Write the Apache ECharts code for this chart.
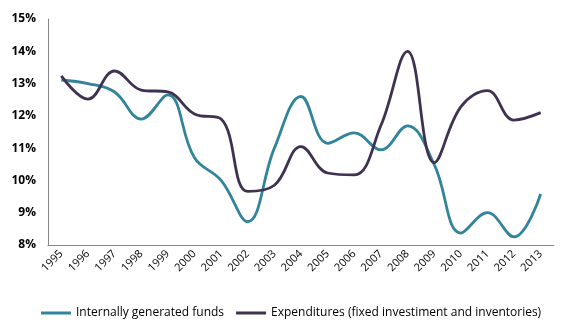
<!DOCTYPE html>
<html><head><meta charset="utf-8">
<script src="https://cdn.jsdelivr.net/npm/echarts@6/dist/echarts.min.js"></script>
<style>html,body{margin:0;padding:0;background:#fff}#c{width:572px;height:334px}</style>
</head><body><div id="c"></div>
<script>
const years = ['1995','1996','1997','1998','1999','2000','2001','2002','2003','2004','2005','2006','2007','2008','2009','2010','2011','2012','2013'];
const internalFunds = [13.11,13.0,12.74,11.9,12.65,10.7,10.0,8.72,11.0,12.6,11.15,11.47,10.95,11.69,10.5,8.37,9.0,8.25,9.58];
const expenditures = [13.24,12.52,13.39,12.8,12.74,12.06,11.9,9.66,9.85,11.05,10.23,10.17,11.7,14.0,10.55,12.28,12.78,11.87,12.1];
const yTicks = {min:8, max:15, interval:1};
const chart = echarts.init(document.getElementById('c'));
const font = 'Open Sans';
chart.setOption({
  animation:false,
  grid:{left:48,right:18,top:19,bottom:89,containLabel:false},
  legend:{
    bottom:10,left:36,itemWidth:30,itemHeight:3,itemGap:12,icon:'rect',
    textStyle:{fontFamily:font,fontSize:12,color:'#000'},
    data:['Internally generated funds','Expenditures (fixed investiment and inventories)']
  },
  xAxis:{
    type:'category',data:years,boundaryGap:true,
    axisLine:{lineStyle:{color:'#868686',width:1}},
    axisTick:{show:false},
    axisLabel:{rotate:45,fontFamily:font,fontSize:11,color:'#000',margin:7,interval:0}
  },
  yAxis:{
    type:'value',min:yTicks.min,max:yTicks.max,interval:yTicks.interval,
    axisLine:{show:true,lineStyle:{color:'#868686',width:1}},
    axisTick:{show:false},
    splitLine:{show:false},
    axisLabel:{formatter:'{value}%',fontFamily:font,fontSize:12,fontWeight:'bold',color:'#000',margin:12}
  },
  series:[
    {name:'Internally generated funds',type:'line',data:internalFunds,smooth:0.4,symbol:'none',
     lineStyle:{color:'#31849B',width:2.8},itemStyle:{color:'#31849B'}},
    {name:'Expenditures (fixed investiment and inventories)',type:'line',data:expenditures,smooth:0.4,symbol:'none',
     lineStyle:{color:'#3F3151',width:2.8},itemStyle:{color:'#3F3151'}}
  ]
});
</script></body></html>
